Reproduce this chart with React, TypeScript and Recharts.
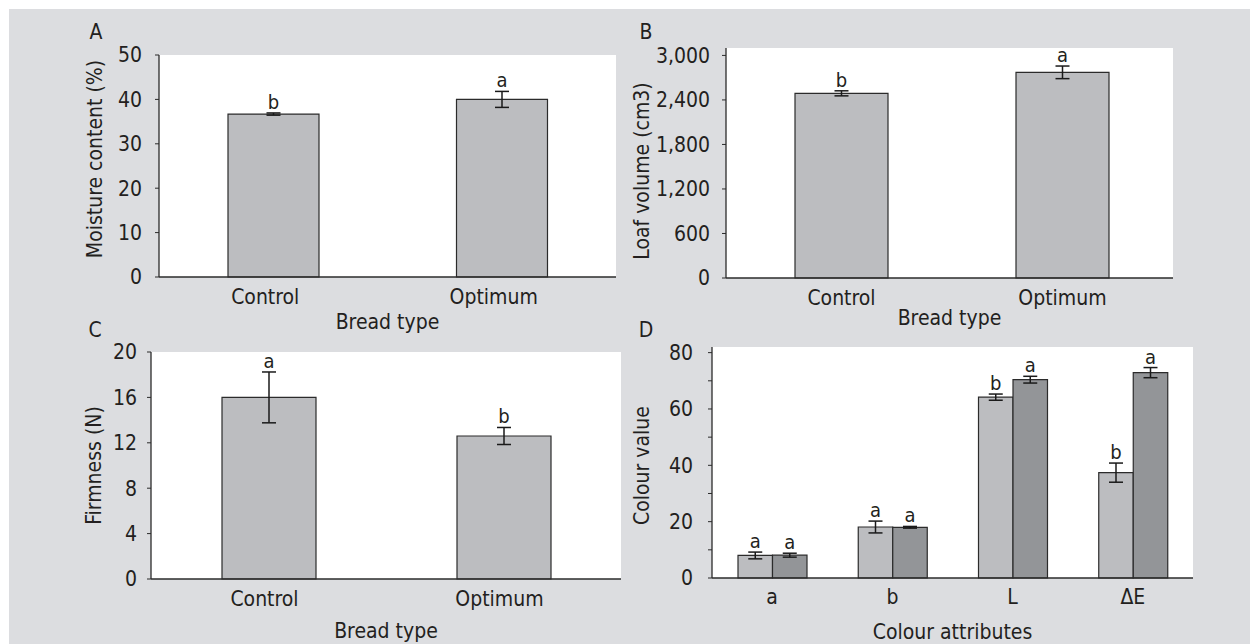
import { Bar, BarChart, CartesianGrid, ErrorBar, LabelList, XAxis, YAxis } from 'recharts'

const breadTypes = ['Control', 'Optimum']

const moisture = [36.7, 40.0]
const moistureErr = [0.25, 1.8]
const moistureSig = ['b', 'a']

const loafVolume = [2489, 2772]
const loafVolumeErr = [34, 85]
const loafVolumeSig = ['b', 'a']

const firmness = [16.0, 12.6]
const firmnessErr = [2.24, 0.75]
const firmnessSig = ['a', 'b']

const colourAttrs = ['a', 'b', 'L', '\u0394E']
const colourControl = [8.0, 18.1, 64.2, 37.4]
const colourControlErr = [1.2, 2.1, 1.1, 3.4]
const colourControlSig = ['a', 'a', 'b', 'b']
const colourOptimum = [8.1, 18.0, 70.4, 72.9]
const colourOptimumErr = [0.7, 0.3, 1.2, 1.8]
const colourOptimumSig = ['a', 'a', 'a', 'a']

const moistureTicks = [0, 10, 20, 30, 40, 50]
const loafTicks = [0, 600, 1200, 1800, 2400, 3000]
const firmnessTicks = [0, 4, 8, 12, 16, 20]
const colourTicks = [0, 10, 20, 30, 40, 50, 60, 70, 80]

const FONT = "'Liberation Sans Narrow', 'Arial Narrow', 'DejaVu Sans Condensed', sans-serif"
const INK = '#231f20'
const LIGHT = '#bcbdc0'
const DARK = '#939598'
const LINE = '#2b2b2b'

const tickStyle = { fontFamily: FONT, fontSize: 21, fill: INK }

function YLabel({ viewBox, text, dx = 0, dy = 0 }: any) {
  const cx = viewBox.x + viewBox.width + dx
  const cy = viewBox.y + viewBox.height / 2 + dy
  return (
    <text
      x={cx}
      y={cy}
      transform={`rotate(-90 ${cx} ${cy})`}
      textAnchor='middle'
      dominantBaseline='central'
      fontFamily={FONT}
      fontSize={21}
      fill={INK}
    >
      {text}
    </text>
  )
}

function XLabel({ viewBox, text, dx = 0, dy = 0 }: any) {
  const cx = viewBox.x + viewBox.width / 2 + dx
  const cy = viewBox.y + dy
  return (
    <text x={cx} y={cy} textAnchor='middle' dominantBaseline='central' fontFamily={FONT} fontSize={21} fill={INK}>
      {text}
    </text>
  )
}

// letter sits just above the error bar; error size in px comes from the bar's own height
function sigLabel(values: number[], errs: number[], sigs: string[]) {
  return (props: any) => {
    const { x, y, width, height, index } = props
    const v = values[index]
    const errPx = v ? (errs[index] / v) * height : 0
    return (
      <text x={x + width / 2} y={y - errPx - 4} textAnchor='middle' fontFamily={FONT} fontSize={20} fill={INK}>
        {sigs[index]}
      </text>
    )
  }
}

function Frame() {
  return [
    <XAxis key='t' xAxisId='top' orientation='top' height={0} tick={false} tickLine={false} axisLine={{ stroke: LINE, strokeWidth: 1.3 }} />,
    <YAxis key='r' yAxisId='right' orientation='right' width={0} tick={false} tickLine={false} axisLine={{ stroke: LINE, strokeWidth: 1.3 }} />,
  ]
}

function PanelLetter({ x, y, children }: any) {
  return (
    <div
      style={{
        position: 'absolute',
        left: x,
        top: y,
        transform: 'translate(-50%, -50%)',
        fontFamily: FONT,
        fontSize: 21,
        lineHeight: 1,
        color: INK,
      }}
    >
      {children}
    </div>
  )
}

type SimpleProps = {
  values: number[]
  errs: number[]
  sigs: string[]
  ticks: number[]
  domain: [number, number]
  yTitle: string
  yDx: number
  yDy: number
  xDy: number
  yTickMargin: number
  barSize: number
  margin: { top: number; right: number; bottom: number; left: number }
  yWidth: number
  xHeight: number
  width: number
  height: number
  padLeft?: number
  xTickDx?: number
  format?: (v: number) => string
}

function SimpleChart(p: SimpleProps) {
  const rows = breadTypes.map((name, i) => ({ name, value: p.values[i], err: p.errs[i] }))
  return (
    <BarChart width={p.width} height={p.height} data={rows} margin={p.margin}>
      <CartesianGrid horizontal={false} vertical={false} fill='#ffffff' fillOpacity={1} />
      <XAxis
        dataKey='name'
        height={p.xHeight}
        tickLine={false}
        tickSize={0}
        tickMargin={12}
        tick={{ ...tickStyle, dx: p.xTickDx ?? 0 }}
        padding={{ left: p.padLeft ?? 0, right: 0 }}
        axisLine={{ stroke: LINE, strokeWidth: 1.3 }}
        label={<XLabel text='Bread type' dy={p.xDy} />}
      />
      <YAxis
        domain={p.domain}
        ticks={p.ticks}
        width={p.yWidth}
        tickSize={4}
        tickMargin={p.yTickMargin}
        tick={tickStyle}
        tickFormatter={p.format}
        tickLine={{ stroke: LINE }}
        axisLine={{ stroke: LINE, strokeWidth: 1.3 }}
        label={<YLabel text={p.yTitle} dx={p.yDx} dy={p.yDy} />}
      />
      {Frame()}
      <Bar dataKey='value' fill={LIGHT} stroke={LINE} strokeWidth={1.2} barSize={p.barSize} isAnimationActive={false}>
        <ErrorBar dataKey='err' width={7} stroke='#1a1a1a' strokeWidth={1.5} direction='y' />
        <LabelList dataKey='value' content={sigLabel(p.values, p.errs, p.sigs)} />
      </Bar>
    </BarChart>
  )
}

function ColourChart() {
  const rows = colourAttrs.map((name, i) => ({
    name,
    control: colourControl[i],
    controlErr: colourControlErr[i],
    optimum: colourOptimum[i],
    optimumErr: colourOptimumErr[i],
  }))
  return (
    <BarChart width={590} height={314} data={rows} margin={{ top: 17, right: 17, bottom: 0, left: 0 }} barGap={0}>
      <CartesianGrid horizontal={false} vertical={false} fill='#ffffff' fillOpacity={1} />
      <XAxis
        dataKey='name'
        height={66}
        tickLine={false}
        tickSize={0}
        tickMargin={11}
        tick={tickStyle}
        axisLine={{ stroke: LINE, strokeWidth: 1.3 }}
        label={<XLabel text='Colour attributes' dy={54} />}
      />
      <YAxis
        domain={[0, 82]}
        ticks={colourTicks}
        width={92}
        tickSize={4}
        tickMargin={15}
        tick={tickStyle}
        tickFormatter={(v: number) => (v % 20 === 0 ? String(v) : '')}
        tickLine={{ stroke: LINE }}
        axisLine={{ stroke: LINE, strokeWidth: 1.3 }}
        label={<YLabel text='Colour value' dx={-70} dy={3} />}
      />
      {Frame()}
      <Bar dataKey='control' fill={LIGHT} stroke={LINE} strokeWidth={1.2} barSize={34.5} isAnimationActive={false}>
        <ErrorBar dataKey='controlErr' width={7} stroke='#1a1a1a' strokeWidth={1.5} direction='y' />
        <LabelList dataKey='control' content={sigLabel(colourControl, colourControlErr, colourControlSig)} />
      </Bar>
      <Bar dataKey='optimum' fill={DARK} stroke={LINE} strokeWidth={1.2} barSize={34.5} isAnimationActive={false}>
        <ErrorBar dataKey='optimumErr' width={7} stroke='#1a1a1a' strokeWidth={1.5} direction='y' />
        <LabelList dataKey='optimum' content={sigLabel(colourOptimum, colourOptimumErr, colourOptimumSig)} />
      </Bar>
    </BarChart>
  )
}

export default function App() {
  return (
    <div style={{ position: 'absolute', left: 0, top: 0, width: 1250, height: 644, background: '#ffffff', overflow: 'hidden' }}>
      <div style={{ position: 'absolute', left: 9, top: 9, right: 0, bottom: 0, background: '#dcdde0' }} />

      <div style={{ position: 'absolute', left: 60, top: 10 }}>
        <SimpleChart
          values={moisture}
          errs={moistureErr}
          sigs={moistureSig}
          ticks={moistureTicks}
          domain={[0, 50]}
          yTitle='Moisture content (%)'
          yDx={-64}
          yDy={-7}
          xDy={45}
          yTickMargin={13}
          barSize={91}
          margin={{ top: 45, right: 14, bottom: 0, left: 0 }}
          yWidth={99}
          xHeight={63}
          width={570}
          height={330}
          xTickDx={-8}
        />
      </div>

      <div style={{ position: 'absolute', left: 620, top: 10 }}>
        <SimpleChart
          values={loafVolume}
          errs={loafVolumeErr}
          sigs={loafVolumeSig}
          ticks={loafTicks}
          domain={[0, 3100]}
          yTitle='Loaf volume (cm3)'
          yDx={-84}
          yDy={8}
          xDy={40}
          yTickMargin={12}
          barSize={93}
          margin={{ top: 38, right: 17, bottom: 0, left: 0 }}
          yWidth={106}
          xHeight={62}
          width={570}
          height={330}
          padLeft={5}
          format={(v: number) => v.toLocaleString('en-US')}
        />
      </div>

      <div style={{ position: 'absolute', left: 60, top: 330 }}>
        <SimpleChart
          values={firmness}
          errs={firmnessErr}
          sigs={firmnessSig}
          ticks={firmnessTicks}
          domain={[0, 20]}
          yTitle='Firmness (N)'
          yDx={-57}
          yDy={0}
          xDy={52}
          yTickMargin={10}
          barSize={94}
          margin={{ top: 22, right: 9, bottom: 0, left: 0 }}
          yWidth={91}
          xHeight={65}
          width={570}
          height={314}
          xTickDx={-4}
        />
      </div>

      <div style={{ position: 'absolute', left: 620, top: 330 }}>
        <ColourChart />
      </div>

      <PanelLetter x={96} y={32}>A</PanelLetter>
      <PanelLetter x={646} y={32}>B</PanelLetter>
      <PanelLetter x={95} y={330}>C</PanelLetter>
      <PanelLetter x={646} y={330}>D</PanelLetter>
    </div>
  )
}
